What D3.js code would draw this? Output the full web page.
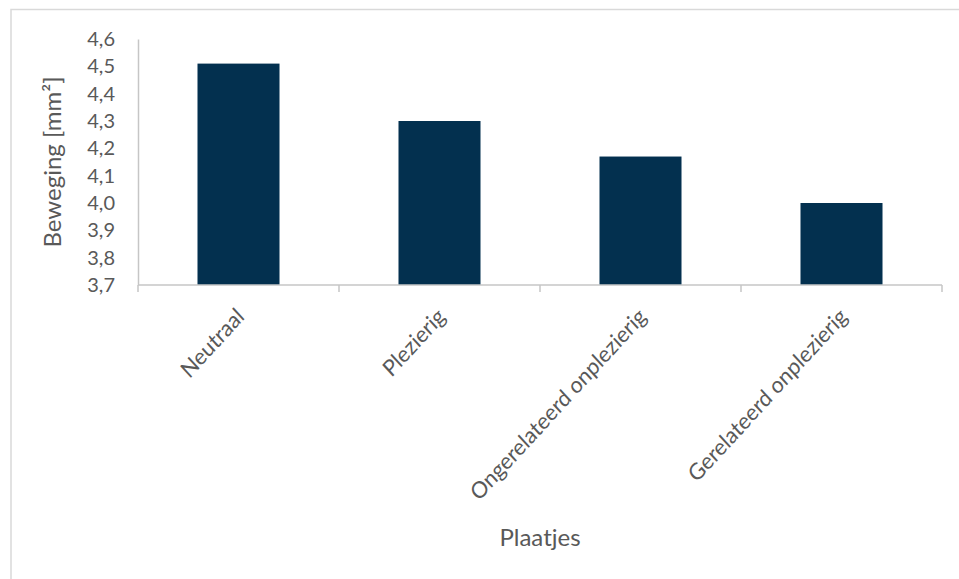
<!DOCTYPE html>
<html>
<head>
<meta charset="utf-8">
<script src="https://cdn.jsdelivr.net/npm/d3@7"></script>
<style>
  html, body { margin: 0; padding: 0; background: #ffffff; }
  svg { display: block; }
  text { font-family: Lato, "Open Sans", sans-serif; fill: #595959; }
</style>
</head>
<body>
<svg id="chart" width="959" height="579"></svg>
<script>
const categories = ["Neutraal", "Plezierig", "Ongerelateerd onplezierig", "Gerelateerd onplezierig"];
const values = [4.51, 4.30, 4.17, 4.00];
const yTicks = [3.7, 3.8, 3.9, 4.0, 4.1, 4.2, 4.3, 4.4, 4.5, 4.6];
const yTitle = "Beweging [mm²]";
const xTitle = "Plaatjes";

const svg = d3.select("#chart");
const plot = { left: 138, right: 942, top: 39, bottom: 285 };

// outer chart border (only top and left visible in frame)
svg.append("path")
  .attr("d", "M11,590 L11,9.5 L970,9.5")
  .attr("fill", "none").attr("stroke", "#d9d9d9").attr("stroke-width", 1.5);

const x = d3.scaleBand().domain(categories)
  .range([plot.left, plot.right])
  .paddingInner(0.592).paddingOuter(0.296);
const y = d3.scaleLinear().domain([3.7, 4.6]).range([plot.bottom, plot.top]);

const locale = d3.formatLocale({ decimal: ",", thousands: ".", grouping: [3], currency: ["€", ""] });
const fmt = locale.format(".1f");

// bars
svg.append("g").selectAll("rect").data(values).join("rect")
  .attr("x", (d, i) => x(categories[i]))
  .attr("width", x.bandwidth())
  .attr("y", d => y(d))
  .attr("height", d => y(3.7) - y(d))
  .attr("fill", "#03304f");

// y axis
const yAxis = d3.axisLeft(y).tickValues(yTicks).tickFormat(fmt).tickSize(0).tickPadding(23);
const gy = svg.append("g").attr("transform", `translate(${plot.left},0)`).call(yAxis);
gy.select(".domain").attr("stroke", "#c6c6c6").attr("stroke-width", 1.5);
gy.selectAll("text").attr("font-size", 20).style("fill", "#595959")
  .attr("font-family", "Lato, 'Open Sans', sans-serif");

// x axis line + boundary ticks
const step = x.step();
const bounds = d3.range(categories.length + 1).map(i => plot.left + i * step);
const gx = svg.append("g");
gx.append("line").attr("x1", plot.left).attr("x2", plot.right)
  .attr("y1", y(3.7)).attr("y2", y(3.7))
  .attr("stroke", "#c6c6c6").attr("stroke-width", 1.5);
gx.selectAll("line.tk").data(bounds).join("line").attr("class", "tk")
  .attr("x1", d => d).attr("x2", d => d)
  .attr("y1", y(3.7)).attr("y2", y(3.7) + 7)
  .attr("stroke", "#c6c6c6").attr("stroke-width", 1.5);

// x labels rotated
gx.selectAll("text.xl").data(categories).join("text").attr("class", "xl")
  .attr("transform", d => `translate(${x(d) + x.bandwidth() / 2 + 7},${y(3.7) + 33}) scale(1,1.09) rotate(-45)`)
  .attr("text-anchor", "end")
  .attr("font-size", 21)
  .text(d => d);

// y title
svg.append("text")
  .attr("transform", `translate(61,${(plot.top + plot.bottom) / 2}) rotate(-90)`)
  .attr("text-anchor", "middle")
  .attr("font-size", 24)
  .text(yTitle);

// x title
svg.append("text")
  .attr("x", (plot.left + plot.right) / 2)
  .attr("y", 546)
  .attr("text-anchor", "middle")
  .attr("font-size", 24)
  .text(xTitle);
</script>
</body>
</html>
